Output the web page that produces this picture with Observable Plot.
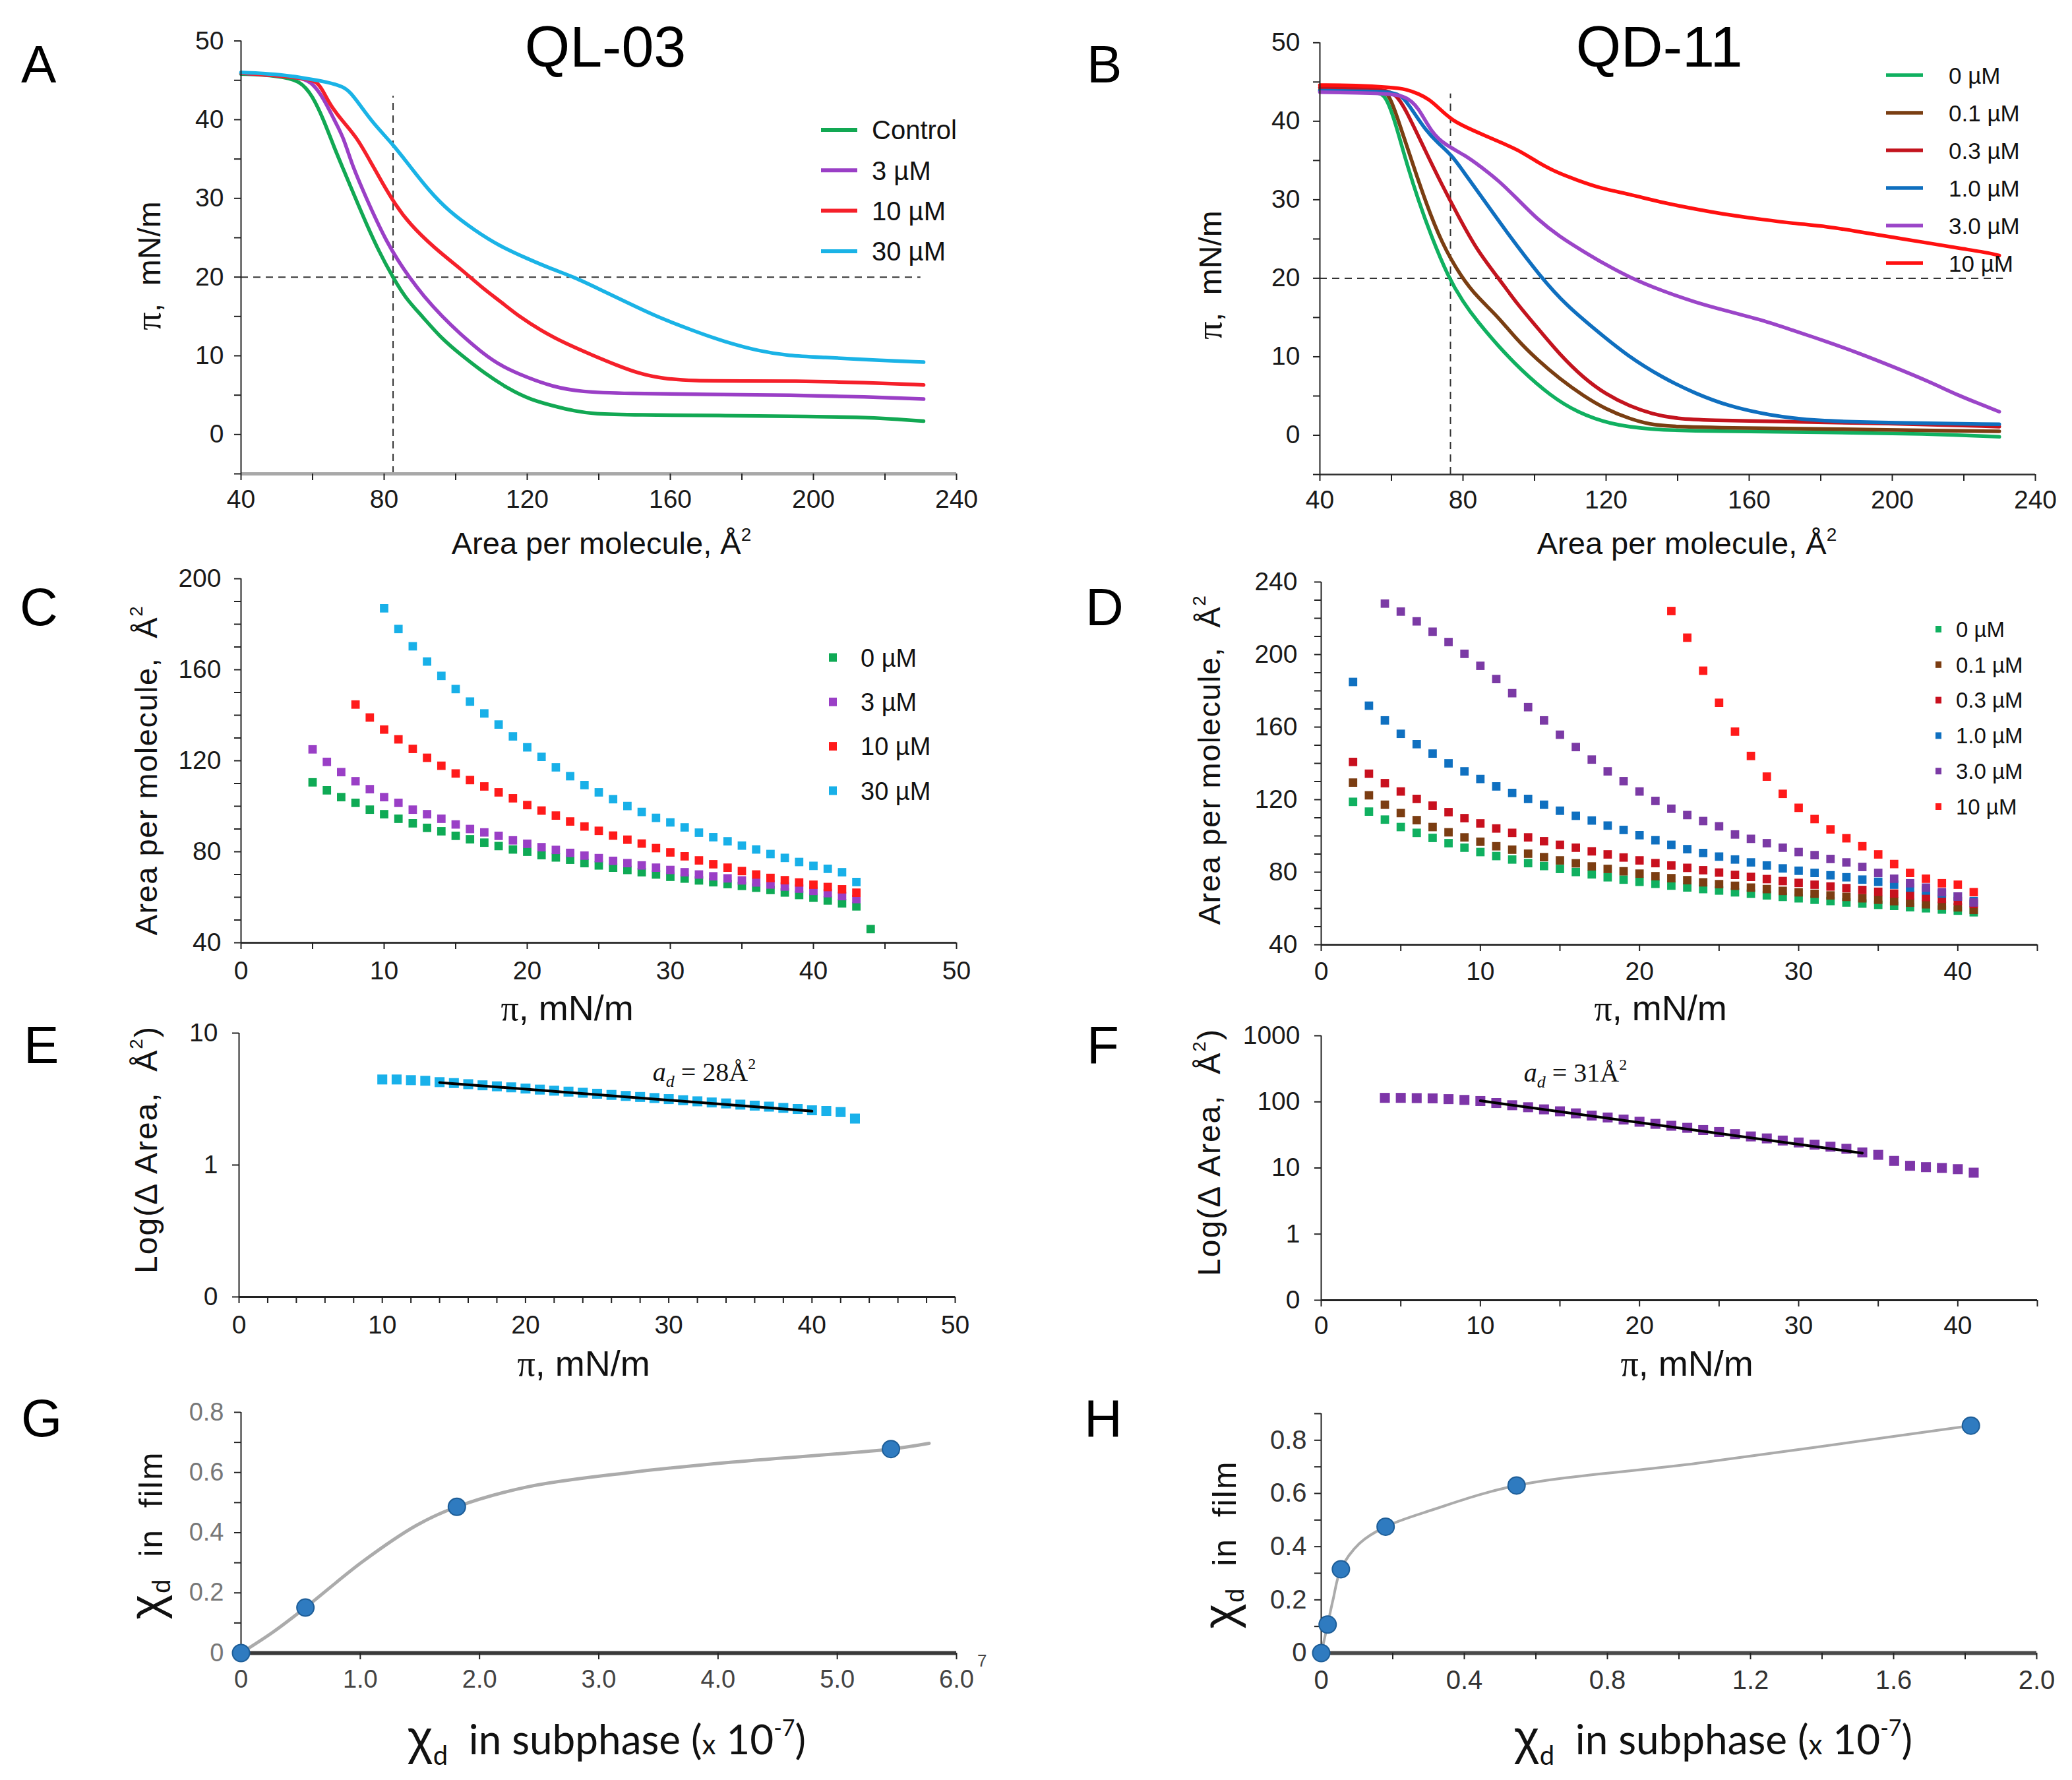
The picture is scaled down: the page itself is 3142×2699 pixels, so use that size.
<!DOCTYPE html>
<html><head><meta charset="utf-8">
<script src="https://cdn.jsdelivr.net/npm/d3@7"></script>
<script src="https://cdn.jsdelivr.net/npm/@observablehq/plot@0.6"></script>
<style>
html,body{margin:0;padding:0;background:#fff;}
#fig{position:relative;width:3142px;height:2699px;overflow:hidden;background:#fff;}
#fig svg{position:absolute;overflow:visible;}
</style></head><body><div id="fig"></div>
<script>
// ---------------- DATA ----------------
// Panel A (QL-03): [area per molecule, surface pressure]
const qlControl = [[40,45.8],[50,45.6],[56.6,45.0],[60,43],[63,40.1],[66,36.5],[68.6,33.7],[72,30],[75,26.8],[78.5,23.3],[82.4,20],[86,17.3],[90.7,15],[96,12.2],[101.8,10],[108,7.8],[114.7,5.8],[121,4.4],[127.6,3.6],[133,3],[138.6,2.6],[150,2.5],[175.5,2.4],[200,2.3],[212.4,2.2],[222,2],[230.8,1.7]];
const ql3 = [[40,45.9],[50,45.6],[57.5,45.3],[60,44.6],[63,42.8],[66,40],[68.6,37.8],[71,34.3],[74.1,31],[77,28],[80.6,24.6],[84,22],[87,20],[91,17.6],[96.2,15],[101,12.9],[107.3,10.4],[113,8.6],[120.2,7.2],[127,6.1],[134.9,5.4],[147.8,5.2],[170,5.1],[193.9,5.0],[215,4.8],[230.8,4.5]];
const ql10 = [[40,45.9],[50,45.6],[58,45.2],[61.2,44.9],[63,43.6],[64.9,41.9],[68,40],[72.3,37.8],[76,34.8],[79.6,31.9],[83,29.3],[87,26.8],[94,23.7],[101.8,20.9],[107,18.8],[112.8,16.8],[118,14.9],[123.9,13.2],[130,11.7],[138.6,10],[145,8.8],[151.5,7.7],[158,7.1],[166.3,6.8],[180,6.8],[193.9,6.8],[215,6.6],[230.8,6.3]];
const ql30 = [[40,46],[50,45.8],[57.5,45.3],[64,44.8],[68.6,44.2],[70.5,43.5],[73.2,41.9],[77,39.5],[82.4,36.9],[87,34.2],[92.5,31],[98,28.4],[105.4,25.9],[112,24],[120.2,22.3],[127,21],[133.1,20],[140,18.5],[147.8,16.8],[156,15],[166.3,13.2],[175,11.8],[184.7,10.6],[193,10],[203.1,9.8],[215,9.5],[230.8,9.2]];
const legendA = ["Control", "3 µM", "10 µM", "30 µM"];
const colorsA = ["#12a853", "#9a3fc6", "#f5202a", "#1ab3e6"];

// Panel B (QD-11)
const qd0 = [[40,43.8],[50,43.8],[56,43.7],[58.4,43.3],[61,40],[64,35],[67.6,29.8],[71,25.5],[75.9,20.1],[80,17],[84,14.5],[89.8,11.4],[96,8.4],[104.5,5.0],[112,2.9],[121.1,1.4],[132.2,0.7],[150,0.5],[180,0.4],[210,0.2],[229.9,-0.2]];
const qd01 = [[40,44],[50,44],[57,43.9],[59.4,43.5],[62,40],[66,34.5],[69.5,29.8],[74,24.5],[79.6,20.1],[84,17.6],[89.8,15.1],[95,12.2],[100.8,9.6],[107,7.2],[113.7,5.0],[120,3.3],[126.6,2.1],[132,1.4],[137.7,1.1],[160,0.9],[200,0.7],[229.9,0.5]];
const qd03 = [[40,44.3],[50,44.2],[58,44],[61.2,43.5],[64,41.5],[69.5,36.2],[74,32],[78.7,27.9],[84,23.5],[89.8,20.1],[95,16.8],[100.8,13.7],[107,10.3],[113.7,7.3],[120,5.2],[126.6,3.7],[133,2.7],[139.5,2.1],[150,1.9],[163.5,1.8],[200,1.5],[229.9,1.1]];
const qd1 = [[40,43.9],[55,43.8],[60,43.7],[63,43.3],[66,41.3],[69.5,38.9],[73,37.2],[76.9,35.7],[81,33],[86.1,29.8],[92,26],[101.8,20.1],[109,16.5],[117.4,13.3],[126,10.1],[135.9,7.3],[145,5.3],[154.3,3.7],[165,2.6],[178.2,1.8],[200,1.6],[229.9,1.4]];
const qd3 = [[40,43.7],[55,43.6],[64,43.4],[67.6,41.7],[71.3,38.5],[75,37],[80.5,35.7],[85,34.2],[89.8,32.5],[95,30.2],[100.8,27.5],[107,25.3],[113.7,23.4],[120,21.7],[126.6,20.1],[135,18.5],[145.1,16.9],[154,15.8],[163.5,14.7],[172,13.4],[181.9,11.9],[191,10.4],[200.4,8.7],[210,6.9],[218.8,5.0],[225,3.9],[229.9,3.0]];
const qd10 = [[40,44.6],[50,44.6],[60.3,44.3],[64,44.1],[67.6,43.5],[70.5,42.8],[73.2,41.7],[76.9,40.1],[82.4,38.9],[91.6,37.1],[96,36.2],[100.8,34.8],[106,33.5],[111.9,32.5],[118,31.5],[126.6,30.7],[135,29.7],[145.1,28.8],[155,28],[163.5,27.5],[172,27],[181.9,26.6],[191,25.9],[200.4,25.2],[210,24.5],[218.8,23.8],[225,23.4],[229.9,22.9]];
const legendB = ["0 µM", "0.1 µM", "0.3 µM", "1.0 µM", "3.0 µM", "10 µM"];
const colorsB = ["#10b060", "#7a3e12", "#c3141e", "#0f6fbf", "#9b45c8", "#ff1010"];

// Panel C (QL-03): pressure -> area
const cPi0 = [5,6,7,8,9,10,11,12,13,14,15,16,17,18,19,20,21,22,23,24,25,26,27,28,29,30,31,32,33,34,35,36,37,38,39,40,41,42,43,44];
const cArea0 = [110.5,107,104,101.5,98.5,96.5,94.5,92.5,90.5,89,87,85.5,84,82.5,81,80,78.5,77.5,76.5,75,74,73,72,71,70,69,68.2,67.4,66.6,65.8,65,64.2,63.2,62.1,61,59.8,58.6,57.3,56,46];
const cPi3 = [5,6,7,8,9,10,11,12,13,14,15,16,17,18,19,20,21,22,23,24,25,26,27,28,29,30,31,32,33,34,35,36,37,38,39,40,41,42,43];
const cArea3 = [125,119.5,115,111,107.5,104,101.5,98.5,96.5,94.5,92,90,88.5,87,85,83.5,82,80.8,79.5,78.3,77.2,76,75,74,73,72,71,70,69.2,68.3,67.4,66.5,65.6,64.7,63.8,62.8,61.8,60.5,59.2];
const cPi10 = [8,9,10,11,12,13,14,15,16,17,18,19,20,21,22,23,24,25,26,27,28,29,30,31,32,33,34,35,36,37,38,39,40,41,42,43];
const cArea10 = [144.7,139,133.7,129.4,125.2,121.3,117.8,114.4,111.5,108.7,106.1,103.5,100.5,98.1,95.9,93.3,91.1,89.2,87.1,85.3,83.6,81.6,79.7,78,76.2,74.5,73,71.5,70,68.5,67.5,66.5,65.5,64.5,63.5,62];
const cPi30 = [10,11,12,13,14,15,16,17,18,19,20,21,22,23,24,25,26,27,28,29,30,31,32,33,34,35,36,37,38,39,40,41,42,43];
const cArea30 = [187,177.9,170.3,163.6,157.3,151.5,146,140.8,135.9,130.7,125.9,121.7,117.1,113.2,109.3,106.1,103.1,100.1,97.5,94.9,92.9,90.7,88.4,86.4,84.6,82.7,81,79,77.3,75.5,73.8,72.5,71,66.7];
const legendC = ["0 µM", "3 µM", "10 µM", "30 µM"];
const colorsC = ["#0faa55", "#9a3fc6", "#ff1a1a", "#18b0e8"];

// Panel D (QD-11): pressure -> area
const dPi = [2,3,4,5,6,7,8,9,10,11,12,13,14,15,16,17,18,19,20,21,22,23,24,25,26,27,28,29,30,31,32,33,34,35,36,37,38,39,40,41];
const dArea0 = [118.8,113.4,109,104.9,101.7,98.9,96,93.5,91.1,88.9,87,85,83.4,81.8,80.1,78.8,77.2,75.9,74.7,73.6,72.6,71.6,70.7,69.9,68.9,68.1,67.2,66.4,65.6,64.8,64.1,63.3,62.7,62,61.4,60.7,60.1,59.4,58.8,57.9];
const dArea01 = [129.4,122.4,117.2,112.6,108.7,104.9,102,99.2,96.8,94.3,92.4,90.2,88.3,86.5,84.9,83.2,81.8,80.5,79.2,77.8,76.7,75.6,74.4,73.4,72.5,71.5,70.7,69.7,68.9,68.1,67.2,66.4,65.6,64.8,64,63.2,62.3,61.5,60.6,59.2];
const dArea03 = [140.8,134.3,129.1,124.5,120.4,116.7,113.1,109.8,106.9,104.1,101.7,99.2,97.1,95.1,93.5,91.5,89.8,88.1,86.5,85,83.7,82.4,81.1,79.8,78.5,77.4,76.2,75.1,74.1,73.1,72.1,71.2,70.2,69.2,68.2,67.2,66.3,65.3,64.1,62.5];
const dArea1 = [184.9,171.8,163.7,156.3,150.6,145.4,140,135.6,131.4,127.3,123.7,120.4,117.2,113.9,111.1,108.5,105.7,103.3,100.4,97.6,95.1,92.7,90.6,88.6,87,85.4,83.7,82.1,80.8,79.6,78.3,77.2,75.9,74.7,73.1,71.5,69.9,68.2,66.6,64.1];
const dPi3 = [4,5,6,7,8,9,10,11,12,13,14,15,16,17,18,19,20,21,22,23,24,25,26,27,28,29,30,31,32,33,34,35,36,37,38,39,40,41];
const dArea3 = [228.1,223.7,218.3,212.6,206.9,200.4,193.8,186.5,178.7,171,163.7,155.8,149,142.1,135.6,130.2,124.5,119.3,115,111.5,108.2,105.3,100.8,98.4,96,93.5,91.1,89.4,87.3,85.4,82.9,79.6,76.4,73.9,71.5,69,66.6,63.3];
const dPi10 = [22,23,24,25,26,27,28,29,30,31,32,33,34,35,36,37,38,39,40,41];
const dArea10 = [224,209.3,191.1,173.4,157.5,144.1,132.7,123.2,115.5,109.3,103.6,98.7,94.3,89.8,84.5,79.6,76.4,73.9,73.1,69];
const legendD = ["0 µM", "0.1 µM", "0.3 µM", "1.0 µM", "3.0 µM", "10 µM"];
const colorsD = ["#10b060", "#7b3d12", "#c8101e", "#0f70c0", "#7b3aa5", "#ff1a1a"];

// Panel E: Δ area (log) for QL-03 30 µM
const ePi = [10,11,12,13,14,15,16,17,18,19,20,21,22,23,24,25,26,27,28,29,30,31,32,33,34,35,36,37,38,39,40,41,42,43];
const eDelta = [4.45,4.45,4.4,4.35,4.25,4.18,4.1,4.02,3.95,3.88,3.8,3.73,3.66,3.6,3.53,3.47,3.4,3.34,3.28,3.22,3.16,3.1,3.04,2.98,2.93,2.87,2.82,2.77,2.71,2.66,2.6,2.57,2.52,2.25];
const eFit = [[14,4.22],[40,2.56]];
// Panel F: Δ area (log) for QD-11 3.0 µM
const fPi = [4,5,6,7,8,9,10,11,12,13,14,15,16,17,18,19,20,21,22,23,24,25,26,27,28,29,30,31,32,33,34,35,36,37,38,39,40,41];
const fDelta = [115,115,114,113,110,107,103,96,89,83,77,72,67,62,58,54,50,46.5,43.5,40.5,37.5,35,32.5,30,28,26,24.3,22.5,21,19.5,17.2,15.8,12.8,10.8,10.3,10,9.6,8.5];
const fFit = [[10,104],[34,16.8]];
const annotE = {x: 28.9, y: 4.3, label: " = 28Å"};
const annotF = {x: 12.75, y: 200, label: " = 31Å"};

// Panel G / H: mole fraction in film vs subphase
const gSub = [0, 0.54, 1.81, 5.45];
const gFilm = [0, 0.151, 0.486, 0.678];
const gCurve = [[0,0],[0.27,0.07],[0.54,0.151],[1.02,0.304],[1.47,0.424],[1.81,0.486],[2.4,0.552],[3.24,0.599],[4.07,0.633],[5.45,0.678],[5.77,0.697]];
const hSub = [0, 0.018, 0.055, 0.18, 0.546, 1.816];
const hFilm = [0, 0.107, 0.315, 0.475, 0.63, 0.855];
const hCurve = [[0,0],[0.018,0.107],[0.033,0.2],[0.055,0.315],[0.107,0.412],[0.18,0.475],[0.31,0.538],[0.546,0.63],[1.047,0.713],[1.816,0.855]];

// Ticks
const abXTicks = [40,80,120,160,200,240], abXMinor = [40,60,80,100,120,140,160,180,200,220,240];
const abYTicks = [0,10,20,30,40,50], abYMinor = [-5,0,5,10,15,20,25,30,35,40,45,50];
const cXTicks = [0,10,20,30,40,50], cXMinor = [0,5,10,15,20,25,30,35,40,45,50];
const cYTicks = [40,80,120,160,200], cYMinor = [40,50,60,70,80,90,100,110,120,130,140,150,160,170,180,190,200];
const dXTicks = [0,10,20,30,40], dXMinor = [0,5,10,15,20,25,30,35,40,45];
const dYTicks = [40,80,120,160,200,240], dYMinor = [40,50,60,70,80,90,100,110,120,130,140,150,160,170,180,190,200,210,220,230,240];
const eXTicks = [0,10,20,30,40,50], eXMinor = [0,2,4,6,8,10,12,14,16,18,20,22,24,26,28,30,32,34,36,38,40,42,44,46,48,50];
const eYTicks = [0.1,1,10];
const fXTicks = [0,10,20,30,40], fXMinor = [0,5,10,15,20,25,30,35,40,45];
const fYTicks = [0.1,1,10,100,1000];
const gXTicks = [0,1,2,3,4,5,6];
const gYTicks = [0,0.2,0.4,0.6,0.8], gYMinor = [0,0.1,0.2,0.3,0.4,0.5,0.6,0.7,0.8];
const hXTicks = [0,0.4,0.8,1.2,1.6,2.0], hXMinor = [0,0.2,0.4,0.6,0.8,1.0,1.2,1.4,1.6,1.8,2.0];
const hYTicks = [0,0.2,0.4,0.6,0.8], hYMinor = [0,0.1,0.2,0.3,0.4,0.5,0.6,0.7,0.8,0.9];

// ---------------- HELPERS ----------------
const FONT = '"Liberation Sans", Arial, Helvetica, sans-serif';
const SERIF = '"Liberation Serif", "Times New Roman", serif';
const CAL = 'Lato, "Liberation Sans", sans-serif';
const fig = document.getElementById("fig");
const pairs = (xs, ys) => xs.map((x, i) => ({x, y: ys[i]}));

function axes(o) {
  const m = [];
  m.push(Plot.ruleY([o.y0], {stroke: o.xLine || "#222", strokeWidth: o.xLineW || 2.5}));
  m.push(Plot.ruleX([o.x0], {stroke: o.yLine || "#222", strokeWidth: o.yLineW || 2}));
  m.push(Plot.axisX({ticks: o.xMinor || o.xTicks, tickSize: 10, tickFormat: () => "", label: null, stroke: "#222", strokeWidth: 2}));
  m.push(Plot.axisY({ticks: o.yMinor || o.yTicks, tickSize: 10, tickFormat: () => "", label: null, stroke: "#222", strokeWidth: 2}));
  m.push(Plot.axisX({ticks: o.xTicks, tickSize: 0, tickPadding: o.xPad, tickFormat: o.xFmt, label: null, fontSize: o.fs || 38, color: o.xColor || "#1a1a1a"}));
  m.push(Plot.axisY({ticks: o.yTicks, tickSize: 0, tickPadding: o.yPad, tickFormat: o.yFmt, label: null, fontSize: o.fs || 38, color: o.yColor || "#1a1a1a"}));
  return m;
}

function txt(g, x, y, parts, o = {}) {
  const t = g.append("text").attr("x", x).attr("y", y)
    .attr("text-anchor", o.anchor || "start")
    .attr("font-family", o.family || FONT)
    .attr("font-size", o.size || 40)
    .attr("fill", o.fill || "#111");
  if (o.dy) t.attr("dy", o.dy);
  if (o.rotate) t.attr("transform", `rotate(${o.rotate},${x},${y})`);
  if (o.spacing) t.attr("letter-spacing", o.spacing);
  for (const p of parts) {
    if (typeof p === "string") { t.append("tspan").text(p); continue; }
    const s = t.append("tspan").text(p.t);
    if (p.size) s.attr("font-size", p.size);
    if (p.family) s.attr("font-family", p.family);
    if (p.style) s.attr("font-style", p.style);
    if (p.dy !== undefined) s.attr("dy", p.dy);
  }
  return t;
}

function panel(cfg) {
  const [x0, y0, x1, y1] = cfg.box;
  const [L, T, R, B] = cfg.frame;
  const p = Plot.plot({
    width: x1 - x0, height: y1 - y0,
    marginLeft: L - x0, marginRight: x1 - R, marginTop: T - y0, marginBottom: y1 - B,
    x: Object.assign({nice: false}, cfg.x),
    y: Object.assign({nice: false}, cfg.y),
    style: {fontFamily: FONT, background: "transparent", overflow: "visible"},
    marks: cfg.marks
  });
  p.style.left = x0 + "px";
  p.style.top = y0 + "px";
  fig.appendChild(p);
  const root = d3.select(p);
  const g = root.append("g").attr("transform", `translate(${-x0},${-y0})`);
  const lg = root.append("g");
  if (cfg.extras) cfg.extras(g, lg, p.scale("x"), p.scale("y"));
}

const lineOf = (data, color, w = 5.5) => Plot.line(data, {x: d => d[0], y: d => d[1], stroke: color, strokeWidth: w, curve: "basis", strokeLinecap: "round"});
const sq = (xs, ys, color, r = 7.2) => Plot.dot(pairs(xs, ys), {x: "x", y: "y", symbol: "square", r, fill: color, stroke: null});
const dash = {stroke: "#333", strokeWidth: 2, strokeDasharray: "11,8"};
const annot = (lg, sx, sy, a) => txt(lg, sx.apply(a.x), sy.apply(a.y),
  [{t: "a", style: "italic"}, {t: "d", style: "italic", size: 26, dy: 9}, {t: a.label, dy: -9}, {t: "2", size: 24, dy: -18}],
  {size: 40, family: SERIF});

// ---------------- PANEL A ----------------
panel({
  box: [0, 0, 1571, 852], frame: [365, 61.6, 1450, 718],
  x: {domain: [40, 240]}, y: {domain: [-5, 50]},
  marks: [
    Plot.ruleY([20], {x1: 40, x2: 230, ...dash}),
    Plot.ruleX([82.5], {y1: -5, y2: 43, ...dash}),
    lineOf(qlControl, colorsA[0]), lineOf(ql3, colorsA[1]), lineOf(ql10, colorsA[2]), lineOf(ql30, colorsA[3]),
    ...axes({x0: 40, y0: -5, xTicks: abXTicks, xMinor: abXMinor, yTicks: abYTicks, yMinor: abYMinor, xPad: 24, yPad: 26, fs: 39, xLine: "#a8a8a8", xLineW: 5})
  ],
  extras(g) {
    txt(g, 32, 125, ["A"], {size: 80, fill: "#000"});
    txt(g, 918, 101, ["QL-03"], {size: 88, anchor: "middle", fill: "#000"});
    legendA.forEach((s, i) => {
      const y = 197 + i * 61.3;
      g.append("line").attr("x1", 1245).attr("x2", 1300).attr("y1", y).attr("y2", y).attr("stroke", colorsA[i]).attr("stroke-width", 6);
      txt(g, 1322, y, [s], {size: 40, dy: "0.36em"});
    });
    txt(g, 912, 840, ["Area per molecule, Å", {t: "2", size: 28, dy: -20}], {size: 47, anchor: "middle"});
    txt(g, 243, 403, [{t: "π", family: SERIF, size: 54}, ",  mN/m"], {size: 48, anchor: "middle", rotate: -90});
  }
});

// ---------------- PANEL B ----------------
panel({
  box: [1571, 0, 3142, 852], frame: [2001, 64.3, 3086, 719],
  x: {domain: [40, 240]}, y: {domain: [-5, 50]},
  marks: [
    Plot.ruleY([20], {x1: 40, x2: 231, ...dash}),
    Plot.ruleX([76.5], {y1: -5, y2: 43.5, ...dash}),
    lineOf(qd0, colorsB[0]), lineOf(qd01, colorsB[1]), lineOf(qd03, colorsB[2]), lineOf(qd1, colorsB[3]), lineOf(qd3, colorsB[4]), lineOf(qd10, colorsB[5]),
    ...axes({x0: 40, y0: -5, xTicks: abXTicks, xMinor: abXMinor, yTicks: abYTicks, yMinor: abYMinor, xPad: 24, yPad: 30, fs: 39, xLine: "#333", xLineW: 2.5})
  ],
  extras(g) {
    txt(g, 1648, 125, ["B"], {size: 80, fill: "#000"});
    txt(g, 2516, 101, ["QD-11"], {size: 88, anchor: "middle", fill: "#000"});
    legendB.forEach((s, i) => {
      const y = 114 + i * 57;
      g.append("line").attr("x1", 2860).attr("x2", 2916).attr("y1", y).attr("y2", y).attr("stroke", colorsB[i]).attr("stroke-width", 5.5);
      txt(g, 2955, y, [s], {size: 35, dy: "0.36em"});
    });
    txt(g, 2558, 840, ["Area per molecule, Å", {t: "2", size: 28, dy: -20}], {size: 47, anchor: "middle"});
    txt(g, 1852, 417, [{t: "π", family: SERIF, size: 54}, ",  mN/m"], {size: 48, anchor: "middle", rotate: -90});
  }
});

// ---------------- PANEL C ----------------
panel({
  box: [0, 852, 1571, 1548], frame: [365, 877, 1450, 1429],
  x: {domain: [0, 50]}, y: {domain: [40, 200]},
  marks: [
    sq(cPi0, cArea0, colorsC[0]), sq(cPi3, cArea3, colorsC[1]), sq(cPi10, cArea10, colorsC[2]), sq(cPi30, cArea30, colorsC[3]),
    ...axes({x0: 0, y0: 40, xTicks: cXTicks, xMinor: cXMinor, yTicks: cYTicks, yMinor: cYMinor, xPad: 28, yPad: 30, fs: 39, xLine: "#333", xLineW: 3})
  ],
  extras(g) {
    txt(g, 30, 948, ["C"], {size: 80, fill: "#000"});
    legendC.forEach((s, i) => {
      const y = 997 + i * 67.3;
      g.append("rect").attr("x", 1257).attr("y", y - 6.5).attr("width", 12).attr("height", 13).attr("fill", colorsC[i]);
      txt(g, 1305, y, [s], {size: 38, dy: "0.36em"});
    });
    txt(g, 860, 1547, [{t: "π", family: SERIF}, ", mN/m"], {size: 54, anchor: "middle"});
    txt(g, 238, 1168, ["Area per molecule,  Å", {t: "2", size: 28, dy: -22}], {size: 47, anchor: "middle", rotate: -90, spacing: 1.5});
  }
});

// ---------------- PANEL D ----------------
panel({
  box: [1571, 852, 3142, 1548], frame: [2003, 882, 3089, 1432],
  x: {domain: [0, 45]}, y: {domain: [40, 240]},
  marks: [
    sq(dPi, dArea0, colorsD[0]), sq(dPi, dArea01, colorsD[1]), sq(dPi, dArea03, colorsD[2]), sq(dPi, dArea1, colorsD[3]), sq(dPi3, dArea3, colorsD[4]), sq(dPi10, dArea10, colorsD[5]),
    ...axes({x0: 0, y0: 40, xTicks: dXTicks, xMinor: dXMinor, yTicks: dYTicks, yMinor: dYMinor, xPad: 26, yPad: 36, fs: 39, xLine: "#333", xLineW: 3})
  ],
  extras(g) {
    txt(g, 1646, 948, ["D"], {size: 80, fill: "#000"});
    legendD.forEach((s, i) => {
      const y = 954 + i * 53.8;
      g.append("rect").attr("x", 2935).attr("y", y - 5).attr("width", 9).attr("height", 10).attr("fill", colorsD[i]);
      txt(g, 2966, y, [s], {size: 33, dy: "0.36em"});
    });
    txt(g, 2518, 1547, [{t: "π", family: SERIF}, ", mN/m"], {size: 54, anchor: "middle"});
    txt(g, 1850, 1152, ["Area per molecule,  Å", {t: "2", size: 28, dy: -22}], {size: 47, anchor: "middle", rotate: -90, spacing: 1.5});
  }
});

// ---------------- PANEL E ----------------
panel({
  box: [0, 1548, 1571, 2092], frame: [362, 1566, 1448, 1966],
  x: {domain: [0, 50]}, y: {type: "log", domain: [0.1, 10]},
  marks: [
    sq(ePi, eDelta, "#19b1ea", 8.5),
    Plot.line(eFit, {x: d => d[0], y: d => d[1], stroke: "#000", strokeWidth: 4}),
    ...axes({x0: 0, y0: 0.1, xTicks: eXTicks, xMinor: eXMinor, yTicks: eYTicks, xPad: 28, yPad: 32, fs: 39, yFmt: d => d < 1 ? "0" : String(d), xLine: "#222", xLineW: 3})
  ],
  extras(g, lg, sx, sy) {
    txt(g, 36, 1612, ["E"], {size: 80, fill: "#000"});
    annot(lg, sx, sy, annotE);
    txt(g, 885, 2086, [{t: "π", family: SERIF}, ", mN/m"], {size: 54, anchor: "middle"});
    txt(g, 238, 1743, ["Log(Δ Area,  Å", {t: "2", size: 28, dy: -22}, {t: ")", dy: 22}], {size: 48, anchor: "middle", rotate: -90, spacing: 2});
  }
});

// ---------------- PANEL F ----------------
panel({
  box: [1571, 1548, 3142, 2092], frame: [2003, 1570, 3089, 1971],
  x: {domain: [0, 45]}, y: {type: "log", domain: [0.1, 1000]},
  marks: [
    sq(fPi, fDelta, "#7d35a8", 8.5),
    Plot.line(fFit, {x: d => d[0], y: d => d[1], stroke: "#000", strokeWidth: 4}),
    ...axes({x0: 0, y0: 0.1, xTicks: fXTicks, xMinor: fXMinor, yTicks: fYTicks, xPad: 24, yPad: 32, fs: 39, yFmt: d => d < 1 ? "0" : String(d), xLine: "#222", xLineW: 3})
  ],
  extras(g, lg, sx, sy) {
    txt(g, 1648, 1612, ["F"], {size: 80, fill: "#000"});
    annot(lg, sx, sy, annotF);
    txt(g, 2558, 2086, [{t: "π", family: SERIF}, ", mN/m"], {size: 54, anchor: "middle"});
    txt(g, 1850, 1747, ["Log(Δ Area,  Å", {t: "2", size: 28, dy: -22}, {t: ")", dy: 22}], {size: 48, anchor: "middle", rotate: -90, spacing: 2});
  }
});

// ---------------- PANEL G ----------------
panel({
  box: [0, 2092, 1571, 2699], frame: [365, 2141, 1450, 2506],
  x: {domain: [0, 6]}, y: {domain: [0, 0.8]},
  marks: [
    Plot.line(gCurve, {x: d => d[0], y: d => d[1], stroke: "#ababab", strokeWidth: 5, curve: "catmull-rom"}),
    ...axes({x0: 0, y0: 0, xTicks: gXTicks, yTicks: gYTicks, yMinor: gYMinor, xPad: 26, yPad: 26, fs: 38, xFmt: d => d === 0 ? "0" : d.toFixed(1), yFmt: d => String(d), xColor: "#444", yColor: "#777", xLine: "#3a3a3a", xLineW: 6}),
    Plot.dot(pairs(gSub, gFilm), {x: "x", y: "y", r: 13, fill: "#2f7bc0", stroke: "#1d5d97", strokeWidth: 2})
  ],
  extras(g) {
    txt(g, 32, 2178, ["G"], {size: 80, fill: "#000"});
    txt(g, 1482, 2527, ["7"], {size: 26, fill: "#444"});
    txt(g, 920, 2660, [{t: "χ", size: 74, family: FONT}, {t: "d", size: 40, dy: 16}, {t: "  in subphase (", dy: -16}, {t: "x", size: 42}, " 10", {t: "-7", size: 34, dy: -28}, {t: ")", dy: 28}], {size: 62, anchor: "middle", family: CAL});
    txt(g, 246, 2328, [{t: "χ", size: 72}, {t: "d", size: 38, dy: 12}, {t: "  in  film", dy: -12}], {size: 50, anchor: "middle", rotate: -90, spacing: 2});
  }
});

// ---------------- PANEL H ----------------
panel({
  box: [1571, 2092, 3142, 2699], frame: [2003, 2143, 3088, 2506],
  x: {domain: [0, 2]}, y: {domain: [0, 0.9]},
  marks: [
    Plot.line(hCurve, {x: d => d[0], y: d => d[1], stroke: "#ababab", strokeWidth: 4, curve: "catmull-rom"}),
    ...axes({x0: 0, y0: 0, xTicks: hXTicks, xMinor: hXMinor, yTicks: hYTicks, yMinor: hYMinor, xPad: 26, yPad: 22, fs: 40, xFmt: d => d === 0 ? "0" : d.toFixed(1), yFmt: d => String(d), xColor: "#333", yColor: "#333", xLine: "#4a4a4a", xLineW: 6}),
    Plot.dot(pairs(hSub, hFilm), {x: "x", y: "y", r: 13, fill: "#2f7bc0", stroke: "#1d5d97", strokeWidth: 2})
  ],
  extras(g) {
    txt(g, 1644, 2178, ["H"], {size: 80, fill: "#000"});
    txt(g, 2598, 2660, [{t: "χ", size: 74, family: FONT}, {t: "d", size: 40, dy: 16}, {t: "  in subphase (", dy: -16}, {t: "x", size: 42}, " 10", {t: "-7", size: 34, dy: -28}, {t: ")", dy: 28}], {size: 62, anchor: "middle", family: CAL});
    txt(g, 1874, 2342, [{t: "χ", size: 72}, {t: "d", size: 38, dy: 12}, {t: "  in  film", dy: -12}], {size: 50, anchor: "middle", rotate: -90, spacing: 2});
  }
});
</script></body></html>
